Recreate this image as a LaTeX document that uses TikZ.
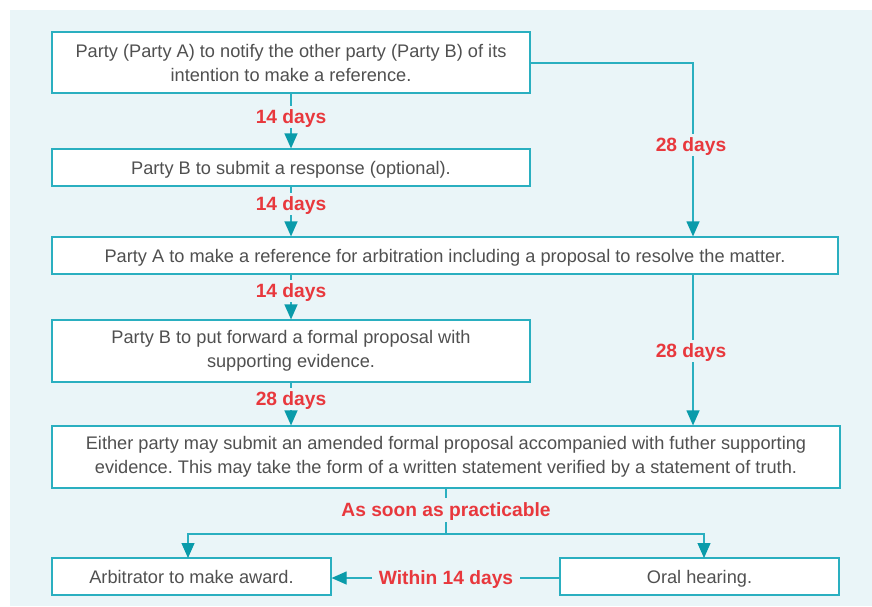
\documentclass[tikz,border=0pt]{standalone}
\usepackage{fontspec}
\setmainfont{Liberation Sans}
\usetikzlibrary{arrows.meta}
\definecolor{bgc}{HTML}{EAF5F8}
\definecolor{linec}{HTML}{2AAFC0}
\definecolor{tipc}{HTML}{0A9BAA}
\definecolor{txtc}{HTML}{505050}
\definecolor{redc}{HTML}{E8383D}
\tikzset{
  box/.style={draw=linec, line width=1.2pt, fill=white, text=txtc, align=center,
    inner sep=0pt, font=\fontsize{18.2}{24}\selectfont},
  onel/.style={text depth=0pt},
  lbl/.style={text=redc, font=\bfseries\fontsize{19.2}{22}\selectfont, inner sep=4pt, text depth=0pt},
  conn/.style={draw=linec, line width=1.2pt},
  arr/.style={conn, -{Triangle[width=13pt,length=15pt,fill=tipc,color=tipc]}},
}
\frenchspacing
\begin{document}
\begin{tikzpicture}[x=1pt,y=-1pt]
\useasboundingbox (0,0) rectangle (872,606);
\fill[bgc] (10,10) rectangle (872,606);
% boxes
\node[box, minimum width=478pt, minimum height=61pt] (b1) at (291,62.5)
  {Party (Party A) to notify the other party (Party B) of its\\intention to make a reference.};
\node[box, onel, minimum width=478pt, minimum height=37pt] (b2) at (291,167.5)
  {Party B to submit a response (optional).};
\node[box, onel, minimum width=786pt, minimum height=37pt] (b3) at (445,255.5)
  {Party A to make a reference for arbitration including a proposal to resolve the matter.};
\node[box, minimum width=478pt, minimum height=62pt] (b4) at (291,351)
  {Party B to put forward a formal proposal with\\supporting evidence.};
\node[box, minimum width=788pt, minimum height=62pt] (b5) at (446,457)
  {Either party may submit an amended formal proposal accompanied with futher supporting\\evidence. This may take the form of a written statement verified by a statement of truth.};
\node[box, onel, minimum width=279pt, minimum height=37pt] (b6) at (191.5,576.5)
  {Arbitrator to make award.};
\node[box, onel, minimum width=279pt, minimum height=37pt] (b7) at (699.5,576.5)
  {Oral hearing.};
% labels
\node[lbl] (l1) at (291,117) {14 days};
\node[lbl] (l2) at (291,204) {14 days};
\node[lbl] (l3) at (291,291) {14 days};
\node[lbl] (l4) at (291,399) {28 days};
\node[lbl] (r1) at (691,145) {28 days};
\node[lbl] (r2) at (691,351) {28 days};
\node[lbl, inner sep=5pt] (l5) at (446,510) {As soon as practicable};
\node[lbl, inner sep=7pt] (l6) at (446,578) {Within 14 days};
\coordinate (c1) at (693,63);
\coordinate (c2) at (446,534);
% left chain
\draw[conn] (b1.south -| l1) -- (l1.north);
\draw[arr] (l1.south) -- (b2.north -| l1);
\draw[conn] (b2.south -| l2) -- (l2.north);
\draw[arr] (l2.south) -- (b3.north -| l2);
\draw[conn] (b3.south -| l3) -- (l3.north);
\draw[arr] (l3.south) -- (b4.north -| l3);
\draw[conn] (b4.south -| l4) -- (l4.north);
\draw[arr] (l4.south) -- (b5.north -| l4);
% right chain
\draw[conn] (b1.east |- c1) -- (c1) -- (c1 |- r1.north);
\draw[arr] (c1 |- r1.south) -- (c1 |- b3.north);
\draw[conn] (c1 |- b3.south) -- (c1 |- r2.north);
\draw[arr] (c1 |- r2.south) -- (c1 |- b5.north);
% split
\draw[conn] (b5.south -| c2) -- (c2 |- l5.north);
\draw[conn] (c2 |- l5.south) -- (c2);
\draw[arr] (c2) -| (188,558);
\draw[arr] (c2) -| (704,558);
% bottom
\draw[conn] (b7.west |- l6) -- (l6.east);
\draw[arr] (l6.west) -- (b6.east |- l6);
\end{tikzpicture}
\end{document}
